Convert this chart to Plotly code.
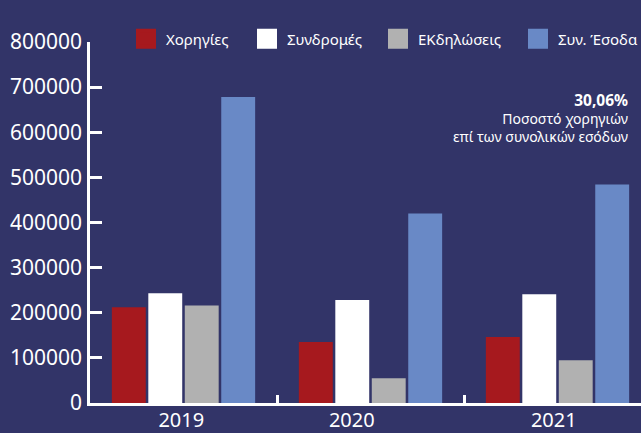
import plotly.graph_objects as go

years = ["2019", "2020", "2021"]
series_names = ["Χορηγίες", "Συνδρομές", "ΕΚδηλώσεις", "Συν. Έσοδα"]
sponsorships = [212000, 135000, 146000]
subscriptions = [243000, 228000, 241000]
events = [216000, 55000, 95000]
total_income = [678000, 420000, 484000]
y_ticks = [0, 100000, 200000, 300000, 400000, 500000, 600000, 700000, 800000]
note_pct = "30,06%"
note_lines = ["Ποσοστό χορηγιών", "επί των συνολικών εσόδων"]

colors = ["#A6191E", "#FFFFFF", "#B1B1B1", "#6989C6"]
BG = "#323468"
label_offsets = [-0.012, -0.1, -0.02]
legend_px = [126, 247, 378, 518]

PLOT_L, PLOT_W, PLOT_T, PLOT_B = 90, 551, 42, 30
PLOT_H = 433 - PLOT_T - PLOT_B

values = [sponsorships, subscriptions, events, total_income]
xs = list(range(len(years)))

fig = go.Figure()
for name, vals, col in zip(series_names, values, colors):
    fig.add_trace(go.Bar(x=xs, y=vals, name=name, marker_color=col,
                         marker_line_width=0, showlegend=False, legendgroup=name))
legend_keys = ["legend", "legend2", "legend3", "legend4"]
for name, col, key in zip(series_names, colors, legend_keys):
    fig.add_trace(go.Scatter(x=[None], y=[None], mode="markers", name=name,
                             legendgroup=name, legend=key,
                             marker=dict(symbol="square", size=20, color=col,
                                         line=dict(width=4, color=col))))

layout_legends = {}
for key, px in zip(legend_keys, legend_px):
    layout_legends[key] = dict(orientation="h", x=(px - PLOT_L) / PLOT_W, xanchor="left",
                               y=1 + 3 / PLOT_H, yanchor="middle",
                               font=dict(size=15, color="white"),
                               bgcolor="rgba(0,0,0,0)", itemwidth=30)

fig.update_layout(
    width=641, height=433,
    paper_bgcolor=BG, plot_bgcolor=BG,
    margin=dict(l=PLOT_L, r=0, t=PLOT_T, b=PLOT_B, autoexpand=False),
    barmode="group", bargap=0.22, bargroupgap=0.07,
    font=dict(family="Noto Sans", color="white", size=16),
    showlegend=True,
    **layout_legends,
)
fig.update_xaxes(
    range=[-0.5, -0.5 + PLOT_W / 187], showgrid=False, zeroline=False,
    showline=True, linecolor="white", linewidth=2.5,
    tickmode="array", tickvals=[x + o for x, o in zip(xs, label_offsets)], ticktext=years,
    ticks="", tickfont=dict(size=20, color="white"), ticklabelstandoff=-3,
    minor=dict(tickmode="array", tickvals=[0.5, 1.5], ticks="inside",
               ticklen=8, tickwidth=2.5, tickcolor="white", showgrid=False),
)
fig.update_yaxes(
    range=[0, 800000], showgrid=False, zeroline=False,
    showline=True, linecolor="white", linewidth=2.5,
    tickmode="array", tickvals=y_ticks, ticktext=[str(v) for v in y_ticks],
    ticks="inside", ticklen=12, tickwidth=2.5, tickcolor="white",
    tickfont=dict(size=21, color="white"), ticklabelstandoff=1,
)
fig.add_annotation(
    xref="paper", yref="paper", x=1 - 11 / PLOT_W, y=1 - (87 - PLOT_T) / PLOT_H,
    xanchor="right", yanchor="top", align="right", showarrow=False,
    text="<b><span style='font-size:15.5px'>" + note_pct + "</span></b><br>" + "<br>".join(note_lines),
    font=dict(size=14, color="white"),
)
fig.write_html("out.html", config={"displayModeBar": False},
               post_script="document.body.style.margin='0';")
